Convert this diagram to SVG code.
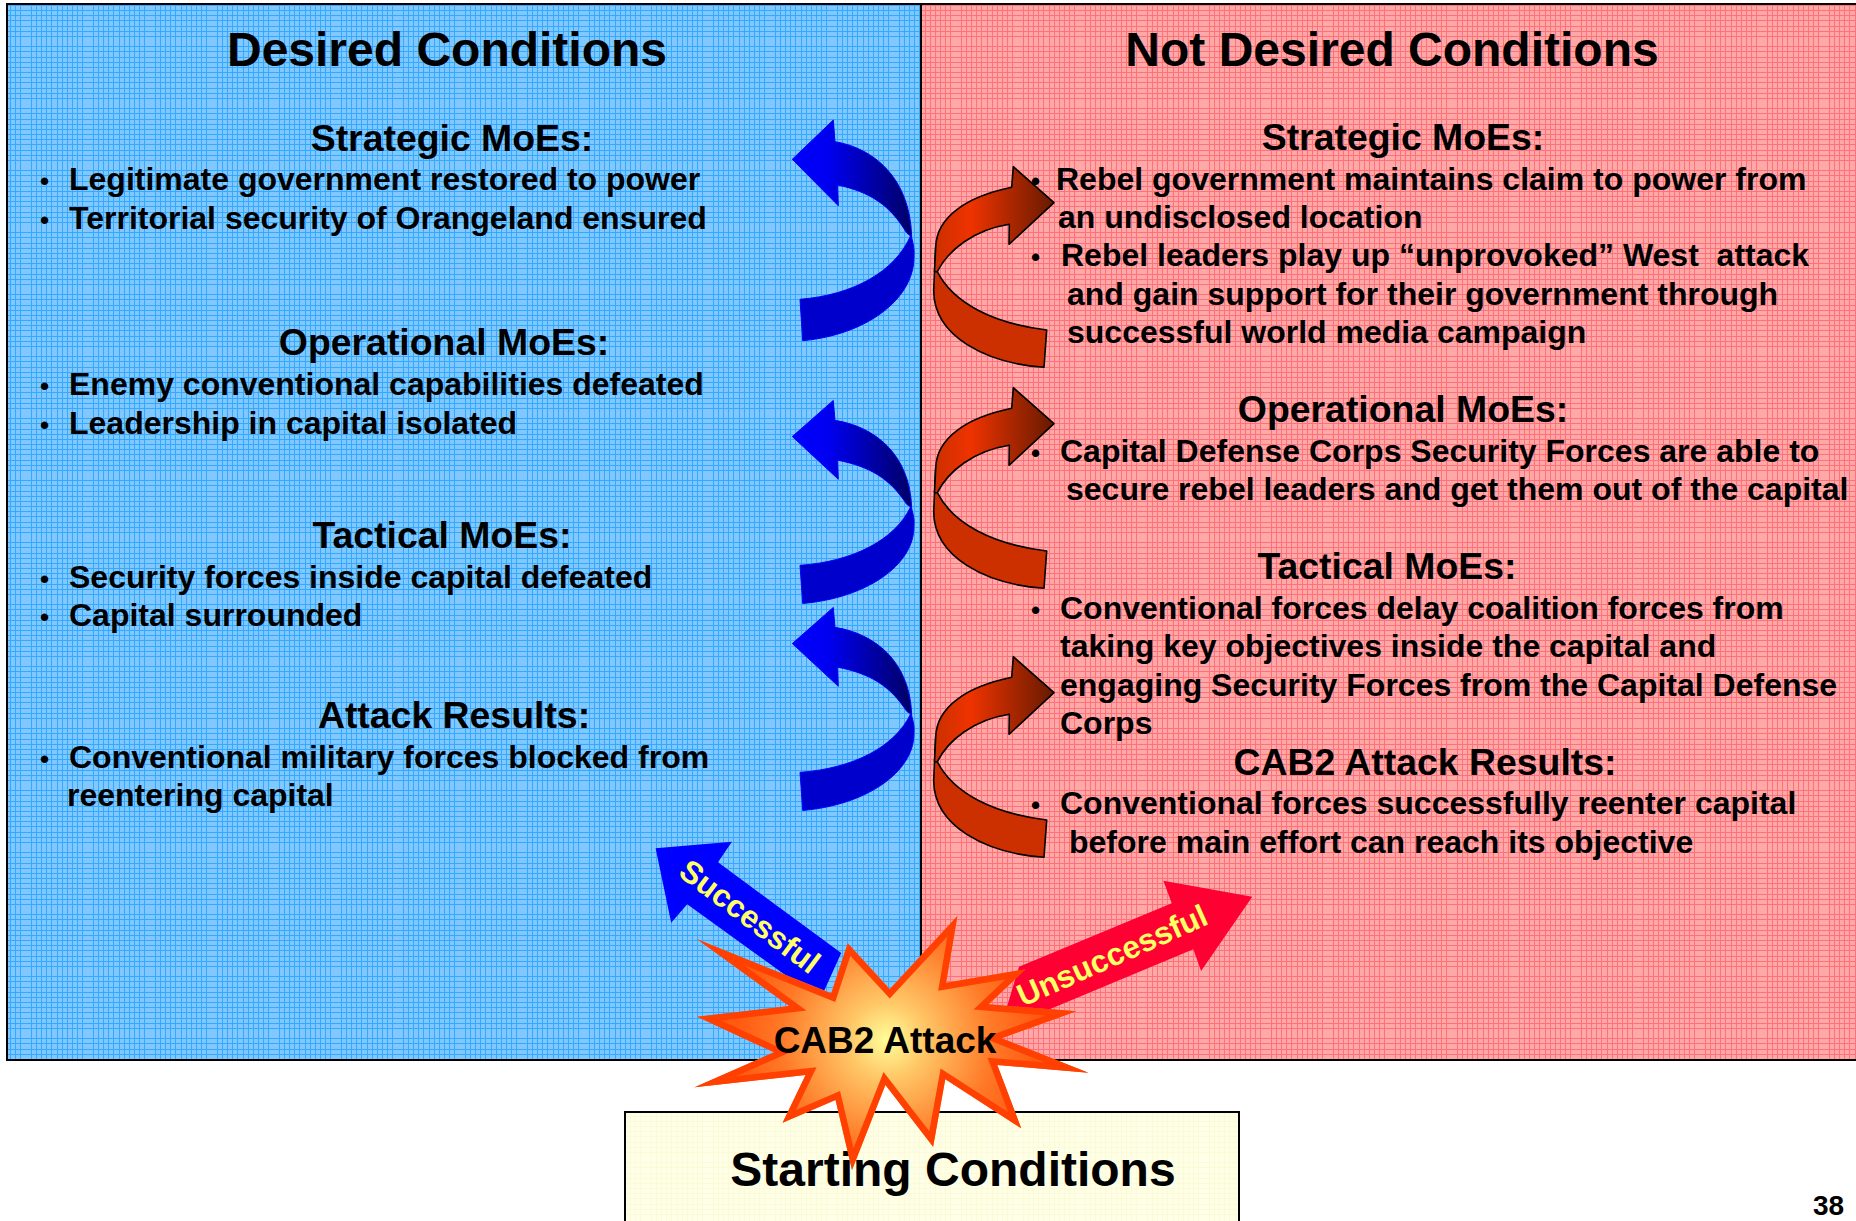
<svg xmlns="http://www.w3.org/2000/svg" width="1856" height="1221" viewBox="0 0 1856 1221">
<style>
text{font-family:"Liberation Sans",Arial,sans-serif;font-weight:700;fill:#000}
.t{font-size:48px;text-anchor:middle}
.h{font-size:37.4px;text-anchor:middle}
.b{font-size:32px;white-space:pre}
.d{font-size:26px}
.y{font-size:31.5px;fill:#ffff66}
.bl{fill:#0000cc;stroke:#0000ff;stroke-width:1}
.bu{fill:url(#gb);stroke:#0000ff;stroke-width:1}
.rl{fill:#cc2f00;stroke:#000;stroke-width:1.6;stroke-linejoin:round}
.ru{fill:url(#gr);stroke:#000;stroke-width:1.6;stroke-linejoin:round}
.g{fill:none;stroke-width:1}
</style>
<defs>
<path id="grid" d="M.5 0V62M5.5 0V62M10.5 0V62M15.5 0V62M20.5 0V62M31.5 0V62M36.5 0V62M41.5 0V62M46.5 0V62M51.5 0V62M57.5 0V62M0 .5H62M0 5.5H62M0 10.5H62M0 15.5H62M0 20.5H62M0 26.5H62M0 31.5H62M0 36.5H62M0 46.5H62M0 51.5H62M0 57.5H62"/>
<pattern id="pb" width="62" height="62" patternUnits="userSpaceOnUse"><rect width="62" height="62" fill="#80c8ff"/><use href="#grid" class="g" stroke="#33aaff"/></pattern>
<pattern id="pr" width="62" height="62" patternUnits="userSpaceOnUse"><rect width="62" height="62" fill="#ffa8a8"/><use href="#grid" class="g" stroke="#ff7078"/></pattern>
<pattern id="py" width="62" height="62" patternUnits="userSpaceOnUse"><rect width="62" height="62" fill="#ffffe8"/><use href="#grid" class="g" stroke="#fbfbd8"/></pattern>
<linearGradient id="gb" x1="0" x2="1" y1="0" y2="0"><stop offset="0" stop-color="#0000ff"/><stop offset=".3" stop-color="#0000f0"/><stop offset="1" stop-color="#000066"/></linearGradient>
<linearGradient id="gr" x1="0" x2="1" y1="0" y2="0"><stop offset="0" stop-color="#cc2f00"/><stop offset=".3" stop-color="#ee3300"/><stop offset="1" stop-color="#661a00"/></linearGradient>
<radialGradient id="gs" gradientUnits="userSpaceOnUse" cx="887" cy="1040" r="150"><stop offset="0" stop-color="#ffff99"/><stop offset=".25" stop-color="#ffc868"/><stop offset=".7" stop-color="#ff7a28"/><stop offset="1" stop-color="#ff5a10"/></radialGradient>
<path id="star" d="M697.2 939.3L831.2 993.3L847.7 943.3L889.8 989L957.4 916L946.1 982.7L1025.5 969.3L988.6 1004.3L1076.2 1011.3L1001.6 1038.3L1088.4 1072.7L997.3 1065L1021.2 1128.3L945.3 1079.3L933.1 1146.7L885.4 1085L852 1170L835.5 1100L782.6 1122.7L805.6 1075L694.6 1087.3L774 1052.3L697.2 1016.7L789.1 1006Z"/>
<clipPath id="cs"><use href="#star"/></clipPath>
<g id="ab">
<path class="bl" d="M800 299.3C853 295 895 272 911 235C915 250 914 252 914 257C914 300 865 335 802.7 340.7Z"/>
<path class="bu" d="M792.3 159.3L833.3 120L835 141.7C873 148 910 177 911.7 236.7L906.7 233C890 205 870 192 837.7 185L838.3 205.7Z"/>
</g>
<g id="ar">
<path class="rl" d="M937.3 271.7C953.3 303.3 993.3 323.3 1046.7 330L1044 367.3C986.7 363.3 933.3 336.7 933.7 290L935.7 246.7Z"/>
<path class="ru" d="M1054 202.7L1013.3 166.7L1011.7 187.3C966.7 196.7 936.7 216.7 935.7 246.7L934.5 271.7L937.3 271.7C948.3 250 973.3 230 1009.3 224.3L1009 244.3Z"/>
</g>
</defs>

<g id="panel-desired">
<rect x="7" y="4" width="914" height="1056" fill="url(#pb)" stroke="#000" stroke-width="2"/>
<text class="t" x="447" y="66">Desired Conditions</text>
<text class="h" x="452" y="151">Strategic MoEs:</text>
<text class="d" x="40" y="190">•</text><text class="b" x="69" y="190">Legitimate government restored to power</text>
<text class="d" x="40" y="229">•</text><text class="b" x="69" y="229">Territorial security of Orangeland ensured</text>
<text class="h" x="444" y="355">Operational MoEs:</text>
<text class="d" x="40" y="395">•</text><text class="b" x="69" y="395">Enemy conventional capabilities defeated</text>
<text class="d" x="40" y="434">•</text><text class="b" x="69" y="434">Leadership in capital isolated</text>
<text class="h" x="442" y="548">Tactical MoEs:</text>
<text class="d" x="40" y="588">•</text><text class="b" x="69" y="588">Security forces inside capital defeated</text>
<text class="d" x="40" y="626">•</text><text class="b" x="69" y="626">Capital surrounded</text>
<text class="h" x="454" y="728">Attack Results:</text>
<text class="d" x="40" y="768">•</text><text class="b" x="69" y="768">Conventional military forces blocked from</text>
<text class="b" x="67" y="806">reentering capital</text>
</g>

<g id="panel-not-desired">
<rect x="921" y="4" width="937" height="1056" fill="url(#pr)" stroke="#000" stroke-width="2"/>
<text class="t" x="1392" y="66">Not Desired Conditions</text>
<text class="h" x="1403" y="150">Strategic MoEs:</text>
<text class="d" x="1031" y="190">•</text><text class="b" x="1056" y="190">Rebel government maintains claim to power from</text>
<text class="b" x="1058" y="228">an undisclosed location</text>
<text class="d" x="1031" y="266">•</text><text class="b" x="1061" y="266">Rebel leaders play up “unprovoked” West  attack</text>
<text class="b" x="1067" y="305">and gain support for their government through</text>
<text class="b" x="1067" y="343">successful world media campaign</text>
<text class="h" x="1403" y="422">Operational MoEs:</text>
<text class="d" x="1031" y="462">•</text><text class="b" x="1060" y="462">Capital Defense Corps Security Forces are able to</text>
<text class="b" x="1066" y="500">secure rebel leaders and get them out of the capital</text>
<text class="h" x="1387" y="579">Tactical MoEs:</text>
<text class="d" x="1031" y="619">•</text><text class="b" x="1060" y="619">Conventional forces delay coalition forces from</text>
<text class="b" x="1060" y="657">taking key objectives inside the capital and</text>
<text class="b" x="1060" y="696">engaging Security Forces from the Capital Defense</text>
<text class="b" x="1060" y="734">Corps</text>
<text class="h" x="1425" y="775">CAB2 Attack Results:</text>
<text class="d" x="1031" y="814">•</text><text class="b" x="1060" y="814">Conventional forces successfully reenter capital</text>
<text class="b" x="1069" y="853">before main effort can reach its objective</text>
</g>

<g id="panel-start">
<rect x="625" y="1112" width="614" height="120" fill="url(#py)" stroke="#000" stroke-width="2"/>
<text x="953" y="1186" style="font-size:48px;text-anchor:middle">Starting Conditions</text>
</g>

<g id="connectors">
<use href="#ab"/>
<use href="#ab" transform="translate(0 290) scale(1 .92)"/>
<use href="#ab" transform="translate(0 497) scale(1 .92)"/>
<use href="#ar"/>
<use href="#ar" transform="translate(0 221)"/>
<use href="#ar" transform="translate(0 490)"/>
<g id="arrow-successful">
<path fill="#0000ff" d="M655.6 848.3L731.9 841.7L718 862.3L841.2 953L820 1000L687.2 904.3L671.2 922.7Z"/>
<text class="y" transform="translate(677 875) rotate(37)">Successful</text>
</g>
<g id="arrow-unsuccessful">
<path fill="#ff0033" d="M1252.3 896.7L1163.4 880.7L1171.7 903.3L1019 966.7L1000 1030L1193.3 949.3L1201.1 971Z"/>
<text class="y" transform="translate(1023 1007) rotate(-24)">Unsuccessful</text>
</g>
</g>

<g id="node-attack">
<use href="#star" fill="url(#gs)"/>
<g clip-path="url(#cs)"><use href="#star" fill="none" stroke="#ff4000" stroke-width="13" stroke-linejoin="miter" stroke-miterlimit="10"/></g>
<text x="885" y="1053" style="font-size:37px;text-anchor:middle">CAB2 Attack</text>
</g>
<text x="1813" y="1214.5" style="font-size:28px">38</text>
</svg>
